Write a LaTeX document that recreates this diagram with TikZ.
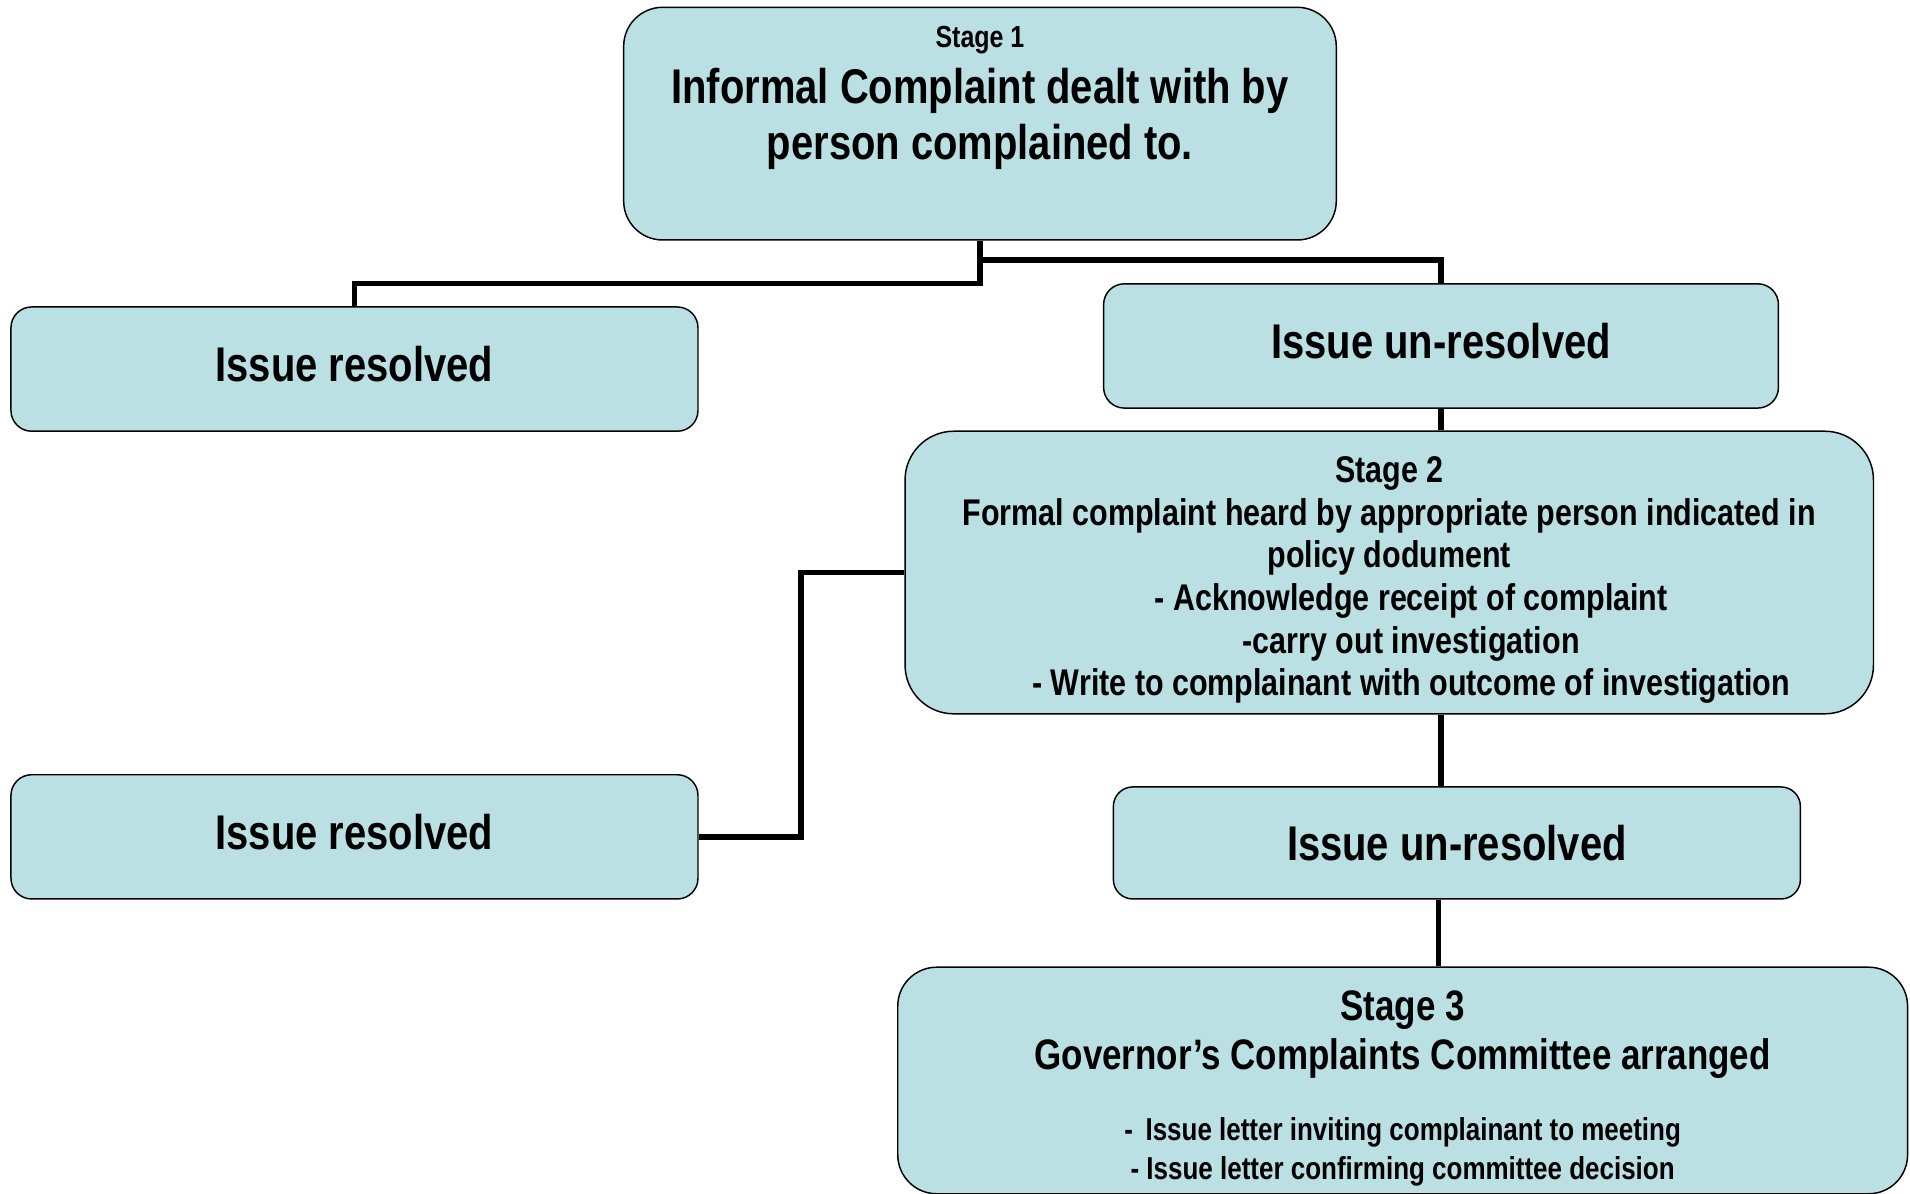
\documentclass[tikz,border=0pt]{standalone}
\usepackage{fontspec}
\setmainfont{Liberation Sans}[FakeStretch=0.82]
\usepackage{tikz}
\definecolor{paleblue}{RGB}{187,224,227}

\begin{document}
\begin{tikzpicture}[x=1pt, y=-1pt,
  main/.style = {draw, fill=paleblue, line width=1.2pt, align=center, inner sep=0pt, font=\bfseries\fontsize{40}{46}\selectfont},
  link/.style = {line width=4.5pt}]
\useasboundingbox (0,0) rectangle (1568,980);
% stage 1 and its two outcomes
\node[main, rounded corners=32pt, minimum width=585pt, minimum height=191pt] (s1) at (804.5,101.5) {{\fontsize{25}{30}\selectfont Stage 1}\\ Informal Complaint dealt with by\\ person complained to.\\[4pt] \mbox{}};
\node[main, rounded corners=17pt, minimum width=564pt, minimum height=102pt, text depth=8pt] (r1) at (291,303) {Issue resolved};
\node[main, rounded corners=17pt, minimum width=554pt, minimum height=102pt, text depth=8pt] (u1) at (1183,284) {Issue un-resolved};
% stage 2
\node[main, rounded corners=40pt, minimum width=795pt, minimum height=232pt, font=\bfseries\fontsize{30.5}{35}\selectfont] (s2) at (1140.5,470) {\mbox{}\\[-1pt] Stage 2\\ Formal complaint heard by appropriate person indicated in\\ policy dodument\\ \hspace*{36pt}- Acknowledge receipt of complaint\\ \hspace*{36pt}-carry out investigation\\ \hspace*{36pt}- Write to complainant with outcome of investigation};
\node[main, rounded corners=17pt, minimum width=564pt, minimum height=102pt, text depth=8pt] (r2) at (291,687) {Issue resolved};
\node[main, rounded corners=16pt, minimum width=564pt, minimum height=92pt] (u2) at (1196,692) {Issue un-resolved};
% stage 3
\node[main, rounded corners=32pt, minimum width=829pt, minimum height=186pt, font=\bfseries\fontsize{35}{40}\selectfont] (s3) at (1151.5,887) {\mbox{}\\[-2.5pt] Stage 3\\ Governor’s Complaints Committee arranged\\[18pt] {\fontsize{26}{32}\selectfont - \,Issue letter inviting complainant to meeting}\\[-8pt] {\fontsize{26}{32}\selectfont - Issue letter confirming committee decision}};
% connectors
\draw[link] (s1.south) -- ++(0,35) -| (r1.north);
\draw[link] (s1.south) ++(0,16) -| (u1.north);
\draw[link] (u1.south) -- (u1.south |- s2.north);
\draw[link] (s2.west) -- ++(-85,0) |- (r2.east);
\draw[link] (s2.south -| u1.south) -- (u1.south |- u2.north);
\draw[link] ([xshift=-15pt]u2.south) -- ([xshift=-15pt]u2.south |- s3.north);
\end{tikzpicture}
\end{document}
